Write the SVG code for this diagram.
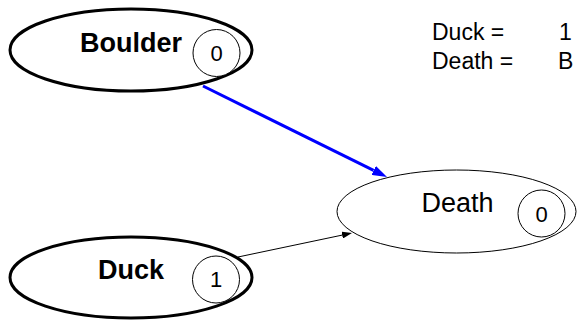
<svg xmlns="http://www.w3.org/2000/svg" width="577" height="322" viewBox="0 0 577 322">
<style>
text{font-family:"Liberation Sans",Arial,sans-serif;fill:#000}
.big{fill:#fff;stroke:#000;stroke-width:3}
.thin{fill:#fff;stroke:#000;stroke-width:1}
.lab{font-size:27px;text-anchor:middle}
.bold{font-weight:bold}
.num{font-size:22px;text-anchor:middle}
.leg{font-size:23px}
</style>
<defs>
<marker id="ab" markerWidth="15" markerHeight="10" refX="0" refY="5" orient="auto" markerUnits="userSpaceOnUse" viewBox="0 0 15 10"><path d="M0,0 L15,5 L0,10 Z" fill="#0000ff"/></marker>
<marker id="ak" markerWidth="10" markerHeight="7" refX="0" refY="3.5" orient="auto" markerUnits="userSpaceOnUse" viewBox="0 0 10 7"><path d="M0,0 L10,3.5 L0,7 Z" fill="#000"/></marker>
</defs>
<g id="connectors">
<line x1="203" y1="86" x2="373.6" y2="170.4" stroke="#0000ff" stroke-width="3" marker-end="url(#ab)"/>
<line x1="238" y1="257" x2="342.2" y2="235.1" stroke="#000" stroke-width="1" marker-end="url(#ak)"/>
</g>
<g id="boulder">
<ellipse class="big" cx="131" cy="50" rx="121" ry="41"/>
<text class="lab bold" x="131" y="52">Boulder</text>
<circle class="thin" cx="216.5" cy="53" r="23.5"/>
<text class="num" x="216.5" y="61">0</text>
</g>
<g id="duck">
<ellipse class="big" cx="131" cy="277.5" rx="121" ry="40.5"/>
<text class="lab bold" x="131" y="279">Duck</text>
<circle class="thin" cx="216" cy="279.5" r="23.5"/>
<text class="num" x="216" y="287">1</text>
</g>
<g id="death">
<ellipse class="thin" cx="456.5" cy="211.5" rx="119.5" ry="41.5"/>
<text class="lab" x="457.5" y="212">Death</text>
<circle class="thin" cx="541.5" cy="213.5" r="23.5"/>
<text class="num" x="541.5" y="221.5">0</text>
</g>
<g id="legend">
<text class="leg" x="432" y="40">Duck =</text>
<text class="leg" x="559" y="40">1</text>
<text class="leg" x="432" y="69">Death =</text>
<text class="leg" x="558" y="69">B</text>
</g>
</svg>
